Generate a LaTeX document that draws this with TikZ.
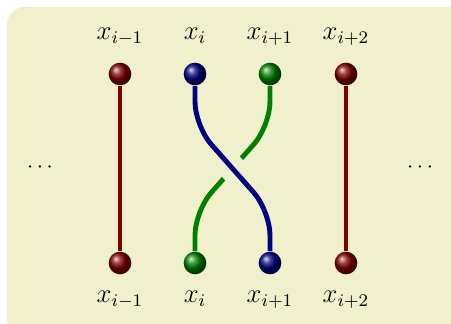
\documentclass[tikz,border=0pt]{standalone}
\usepackage{tikz}
\usetikzlibrary{positioning,backgrounds}

\definecolor{fond}{RGB}{240,240,205}
\definecolor{rouge}{rgb}{0.5,0,0}
\definecolor{bleu}{rgb}{0,0,0.5}
\definecolor{vert}{rgb}{0,0.5,0}

\begin{document}
\begin{tikzpicture}[
  x=0.45pt, y=-0.45pt,
  bille/.style={circle, inner sep=0pt, minimum size=10.2pt},
  brin/.style={line width=2.2pt},
  etiq/.style={anchor=base, font=\large}
]
  \useasboundingbox (0,0) rectangle (451,324);

  % --- Billes ---
  \node[bille, ball color=rouge] (h1) at (120, 74) {};
  \node[bille, ball color=bleu]  (h2) at (195, 74) {};
  \node[bille, ball color=vert]  (h3) at (270, 74) {};
  \node[bille, ball color=rouge] (h4) at (346, 74) {};

  \node[bille, ball color=rouge] (b1) at (120, 263) {};
  \node[bille, ball color=vert]  (b2) at (195, 263) {};
  \node[bille, ball color=bleu]  (b3) at (270, 263) {};
  \node[bille, ball color=rouge] (b4) at (346, 263) {};

  % --- Etiquettes ---
  \node[etiq] (th1) at (120, 40) {$x_{i-1}$};
  \node[etiq] (th2) at (195, 40) {$x_{i}$};
  \node[etiq] (th3) at (270, 40) {$x_{i+1}$};
  \node[etiq] (th4) at (346, 40) {$x_{i+2}$};

  \node[etiq] (tb1) at (120, 303) {$x_{i-1}$};
  \node[etiq] (tb2) at (195, 303) {$x_{i}$};
  \node[etiq] (tb3) at (270, 303) {$x_{i+1}$};
  \node[etiq] (tb4) at (346, 303) {$x_{i+2}$};

  \node (pg) at (40, 168)  {$\cdots$};
  \node (pd) at (420, 168) {$\cdots$};

  % --- Fond et brins (sous les billes) ---
  \begin{pgfonlayer}{background}
    \clip (0,0) rectangle (451,324);
    \fill[fond, rounded corners=8pt] (7,7) rectangle (480,350);

    \draw[brin, rouge] (h1) -- (b1);
    \draw[brin, rouge] (h4) -- (b4);

    \draw[brin, vert, rounded corners=11pt]
      (h3) -- (270,126) -- (195,211) -- (b2);
    % le brin bleu passe dessus
    \draw[brin, bleu, rounded corners=11pt,
          preaction={draw, fond, line width=12pt}]
      (h2) -- (195,126) -- (270,211) -- (b3);
  \end{pgfonlayer}

\end{tikzpicture}
\end{document}
